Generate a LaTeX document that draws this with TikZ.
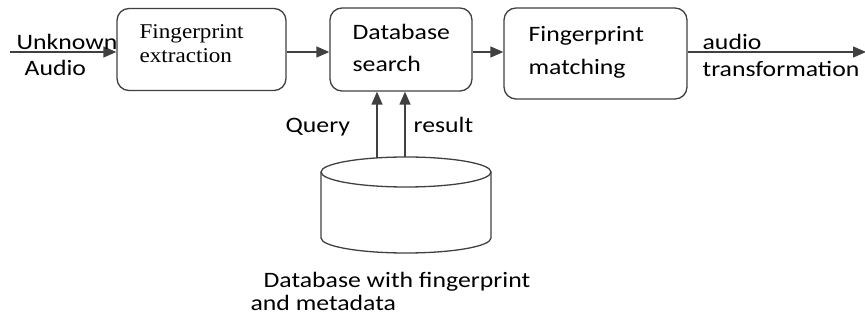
\documentclass[tikz,border=0pt]{standalone}
\usepackage{fontspec}
\setmainfont{Carlito}[FakeStretch=1.17]
\newfontfamily\serifbox{Liberation Serif}[FakeStretch=1.1]
\usetikzlibrary{arrows.meta}
\begin{document}
\begin{tikzpicture}[x=1pt,y=-1pt,
  line width=1.3pt,
  edge/.style={draw=black!75, line width=1.3pt},
  proc/.style={draw=black!75, rounded corners=12pt, line width=1.3pt, inner sep=0pt},
  arr/.style={edge, -{Triangle[length=13pt,width=11pt]}},
  txt/.style={anchor=base west, inner sep=0pt, font=\fontsize{22}{26}\selectfont, text=black},
  stxt/.style={anchor=base west, inner sep=0pt, font=\serifbox\fontsize{21}{25}\selectfont, text=black}]
  \useasboundingbox (0,0) rectangle (865,320);

  % processing boxes
  \node[proc, minimum width=169pt, minimum height=82pt] (extract) at (201.5,49.5) {};
  \node[proc, minimum width=142pt, minimum height=83pt] (search) at (401,49.5) {};
  \node[proc, minimum width=183pt, minimum height=91pt] (match) at (595.5,53.5) {};

  % box captions
  \node[stxt] (t1a) at (139,39) {Fingerprint};
  \node[stxt] (t1b) at (139,63) {extraction};
  \node[txt] (t2a) at (352,40) {Database};
  \node[txt] (t2b) at (352,72) {search};
  \node[txt] (t3a) at (528,42) {Fingerprint};
  \node[txt] (t3b) at (528,75) {matching};

  % main signal line
  \coordinate (src) at (10,52);
  \coordinate (dst) at (866,52);
  \draw[arr] (src) -- (src -| extract.west);
  \draw[arr] (extract.east |- src) -- (search.west |- src);
  \draw[arr] (search.east |- src) -- (match.west |- src);
  \draw[arr] (match.east |- src) -- (dst);

  \node[txt] (inA) at (16,50) {Unknown};
  \node[txt] (inB) at (24,76) {Audio};
  \node[txt] (outA) at (702,50) {audio};
  \node[txt] (outB) at (702,77) {transformation};

  % database cylinder
  \draw[edge] (321,172) -- (321,238) arc[start angle=180, end angle=360, x radius=85pt, y radius=15pt] -- (491,172);
  \draw[edge] (406,172) ellipse [x radius=85pt, y radius=15pt];
  \coordinate (qa) at (377,158);
  \coordinate (ra) at (405,157);
  \draw[arr] (qa) -- (qa |- search.south);
  \draw[arr] (ra) -- (ra |- search.south);

  \node[txt] (q) at (285,133) {Query};
  \node[txt] (r) at (413,133) {result};
  \node[txt] (dbA) at (263,288) {Database with fingerprint};
  \node[txt] (dbB) at (250,311) {and metadata};
\end{tikzpicture}
\end{document}
